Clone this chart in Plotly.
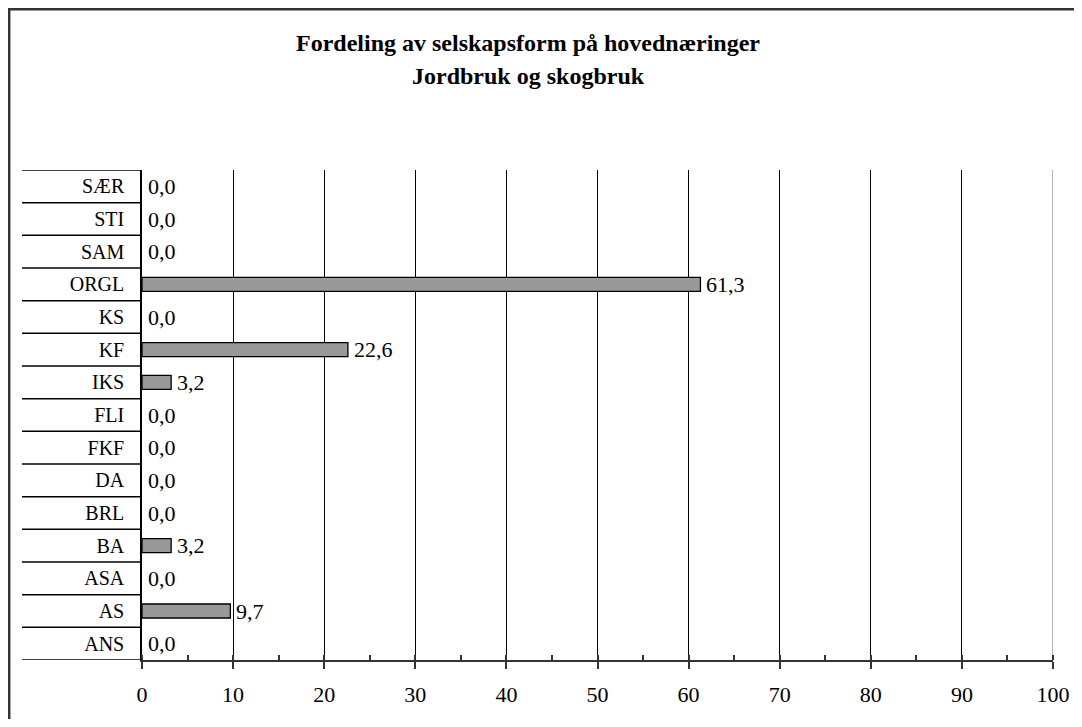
import plotly.graph_objects as go

categories = ["ANS", "AS", "ASA", "BA", "BRL", "DA", "FKF", "FLI", "IKS", "KF", "KS", "ORGL", "SAM", "STI", "SÆR"]
values = [0.0, 9.7, 0.0, 3.2, 0.0, 0.0, 0.0, 0.0, 3.2, 22.6, 0.0, 61.3, 0.0, 0.0, 0.0]
x_ticks = [0, 10, 20, 30, 40, 50, 60, 70, 80, 90, 100]
title_lines = ["Fordeling av selskapsform på hovednæringer", "Jordbruk og skogbruk"]

FONT = "Liberation Serif, Times New Roman, serif"
OFF = 8  # page body margin
W, H = 1082 - 2 * OFF, 727 - 2 * OFF
L, R, T, B = 142 - OFF, 1053 - OFF, 170 - OFF, 660 - OFF
pw, ph = R - L, B - T

def px(x):
    return (x - OFF - L) / pw

def py(y):
    return (B - (y - OFF)) / ph

fig = go.Figure()
fig.add_trace(go.Bar(
    x=values, y=categories, orientation="h",
    marker=dict(color="#999999",
                line=dict(color="#000000", width=[1.3 if v > 0 else 0 for v in values])),
    width=0.43, hoverinfo="skip",
))

annotations = []
for c, v in zip(categories, values):
    annotations.append(dict(
        x=v, y=c, xref="x", yref="y", text=f"{v:.1f}".replace(".", ","),
        showarrow=False, xanchor="left", yanchor="middle", xshift=4,
        font=dict(family=FONT, size=22, color="#000000"),
    ))

annotations.append(dict(x=px(528), y=py(43), xref="paper", yref="paper", text="<b>" + title_lines[0] + "</b>",
                        showarrow=False, xanchor="center", yanchor="middle",
                        font=dict(family=FONT, size=24, color="#000000")))
annotations.append(dict(x=px(528), y=py(76), xref="paper", yref="paper", text="<b>" + title_lines[1] + "</b>",
                        showarrow=False, xanchor="center", yanchor="middle",
                        font=dict(family=FONT, size=24, color="#000000")))

shapes = []
for i in range(len(categories) + 1):
    shapes.append(dict(type="line", xref="paper", yref="y", x0=px(22), x1=0,
                       y0=i - 0.5, y1=i - 0.5, line=dict(color="#000000", width=1.5)))
# gray right edge gridline at the axis maximum
shapes.append(dict(type="line", xref="x", yref="paper", x0=x_ticks[-1], x1=x_ticks[-1],
                   y0=0, y1=1, line=dict(color="#808080", width=1.2), layer="below"))
# outer border: top and left edges visible (drawn at figure edge)
shapes.append(dict(type="rect", xref="paper", yref="paper", x0=px(OFF + 1.2), x1=px(1300),
                   y0=py(900), y1=py(OFF + 1.2), line=dict(color="#333333", width=2.5)))

fig.update_layout(
    width=W, height=H,
    margin=dict(l=L, r=W - R, t=T, b=H - B, autoexpand=False),
    paper_bgcolor="#ffffff", plot_bgcolor="#ffffff",
    showlegend=False,
    bargap=0.57,
    annotations=annotations,
    shapes=shapes,
    font=dict(family=FONT, size=21, color="#000000"),
)
fig.update_xaxes(
    range=[0, 100], tickvals=x_ticks, ticktext=[str(t) for t in x_ticks],
    showgrid=True, gridcolor="#000000", gridwidth=1,
    showline=True, linecolor="#333333", linewidth=2,
    ticks="outside", ticklen=7, tickcolor="#333333", tickwidth=1.5,
    minor=dict(ticks="inside", dtick=5, tick0=0, ticklen=5, tickcolor="#333333", tickwidth=1.5, showgrid=False),
    zeroline=False, ticklabelstandoff=7, automargin=False,
    tickfont=dict(family=FONT, size=22, color="#000000"),
    fixedrange=True,
)
fig.update_yaxes(
    categoryorder="array", categoryarray=categories,
    range=[-0.5, len(categories) - 0.5],
    showgrid=False, showline=True, linecolor="#000000", linewidth=1.5,
    ticks="", ticklabelstandoff=12, zeroline=False, automargin=False,
    tickfont=dict(family=FONT, size=20, color="#000000"),
    fixedrange=True,
)

fig.write_html("out.html")
